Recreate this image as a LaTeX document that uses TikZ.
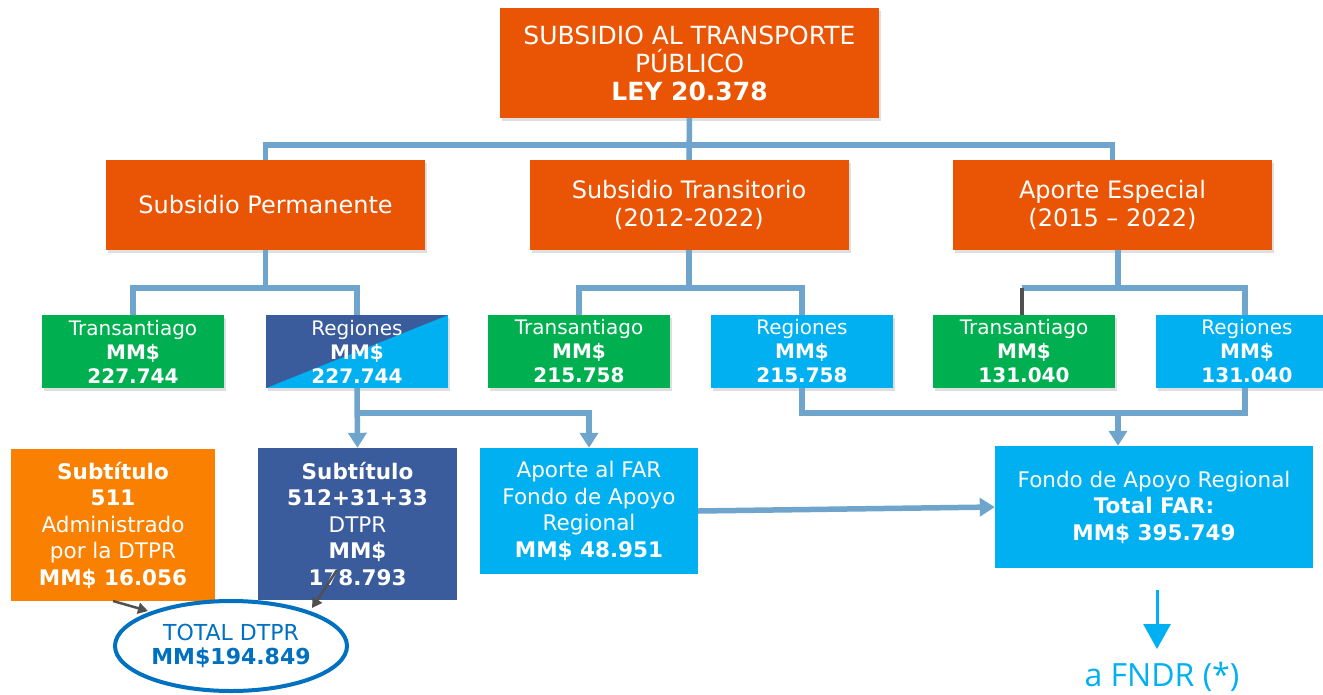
\documentclass[tikz,border=0pt]{standalone}
\usepackage{fontspec}
\setmainfont{DejaVu Sans}
\newfontfamily\opensans{Open Sans}
\usetikzlibrary{arrows.meta,shadows,shapes.geometric}
\definecolor{orred}{HTML}{E95504}
\definecolor{grn}{HTML}{00B050}
\definecolor{lightb}{HTML}{00B0F0}
\definecolor{darkb}{HTML}{3A5B9C}
\definecolor{orng}{HTML}{F98000}
\definecolor{connc}{HTML}{6FA5CC}
\definecolor{ellc}{HTML}{0070C0}
\definecolor{grayc}{HTML}{505050}
\begin{document}
\begin{tikzpicture}[x=1pt,y=-1pt,
  box/.style={inner sep=0pt, align=center, text=white},
  shad/.style={drop shadow={shadow xshift=2pt, shadow yshift=-3pt, opacity=0.25}},
  big/.style={box, shad, fill=orred, font=\fontsize{24}{28}\selectfont, minimum height=90pt, minimum width=319pt},
  lvl/.style={box, shad, font=\fontsize{20}{24}\selectfont, minimum width=182pt, minimum height=73pt},
  low/.style={box, font=\fontsize{21.5}{26.5}\selectfont},
  conn/.style={draw=connc, line width=5.5pt},
  tip/.style={-{Triangle[width=18pt,length=15pt]}},
  grayarrow/.style={draw=grayc, line width=2.5pt, -{Triangle[width=11pt,length=10pt]}},
]
\useasboundingbox (0,0) rectangle (1323,694);
\clip (0,0) rectangle (1323,694);

% top
\node[big, minimum width=379pt, minimum height=110pt, font=\fontsize{25}{28}\selectfont] (top) at (689.5,63)
  {SUBSIDIO AL TRANSPORTE\\PÚBLICO\\\textbf{LEY 20.378}};
% level 2
\node[big] (sp) at (265.5,205) {Subsidio Permanente};
\node[big] (st) at (689,205) {Subsidio Transitorio\\(2012-2022)};
\node[big] (ae) at (1112.5,205) {Aporte Especial\\(2015 – 2022)};

% connectors level 1-2
\coordinate (busA) at (689,145);
\draw[conn] (top.south) -- (st.north);
\draw[conn] (sp.north) |- (busA) -| (ae.north);

% level 3
\node[lvl, fill=grn] (t1) at (133,351.5) {Transantiago\\\textbf{MM\$}\\\textbf{227.744}};
\node[lvl, fill=lightb, path picture={\fill[darkb] (path picture bounding box.north west) -- (path picture bounding box.north east) -- (path picture bounding box.south west) -- cycle;}] (r1) at (357,351.5) {Regiones\\\textbf{MM\$}\\\textbf{227.744}};
\node[lvl, fill=grn] (t2) at (579,351.5) {Transantiago\\\textbf{MM\$}\\\textbf{215.758}};
\node[lvl, fill=lightb] (r2) at (802,351.5) {Regiones\\\textbf{MM\$}\\\textbf{215.758}};
\node[lvl, fill=grn] (t3) at (1024,351.5) {Transantiago\\\textbf{MM\$}\\\textbf{131.040}};
\node[lvl, fill=lightb, text width=164pt] (r3) at (1247,351.5) {Regiones\\\textbf{MM\$}\\\textbf{131.040}};

% connectors level 2-3
\coordinate (busB) at (265.5,288);
\coordinate (busC) at (689,288);
\coordinate (busD) at (1118,288);
\coordinate (gtop) at (1022,288);
\coordinate (gbot) at (1022,315);
\draw[conn] (sp.south) -- (busB);
\draw[conn] (t1.north) |- (busB) -| (r1.north);
\draw[conn] (st.south) -- (busC);
\draw[conn] (t2.north) |- (busC) -| (r2.north);
\draw[conn] ([xshift=5.5pt]ae.south) -- (busD);
\draw[conn] (gtop) -- (busD) -| ([xshift=-2pt]r3.north);
\draw[draw=grayc, line width=4pt] (gtop) -- (gbot);

% bottom boxes
\node[low, fill=orng, minimum width=204pt, minimum height=152pt] (s1) at (113,525)
  {\textbf{Subtítulo}\\\textbf{511}\\Administrado\\por la DTPR\\\textbf{MM\$ 16.056}};
\node[low, fill=darkb, minimum width=199pt, minimum height=152pt] (s2) at (357.5,524)
  {\textbf{Subtítulo}\\\textbf{512+31+33}\\DTPR\\\textbf{MM\$}\\\textbf{178.793}};
\node[low, fill=lightb, minimum width=218pt, minimum height=126pt] (far) at (589,511)
  {Aporte al FAR\\Fondo de Apoyo\\Regional\\\textbf{MM\$ 48.951}};
\node[low, fill=lightb, minimum width=318pt, minimum height=122pt] (fondo) at (1154,507)
  {Fondo de Apoyo Regional\\\textbf{Total FAR:}\\\textbf{MM\$ 395.749}};
\node[ellipse, draw=ellc, line width=4pt, fill=white, minimum width=232pt, minimum height=90pt,
  inner sep=0pt, align=center, text=ellc, font=\fontsize{22}{24}\selectfont] (tot) at (231,646)
  {TOTAL DTPR\\\textbf{MM\$194.849}};

% connectors level 3-4
\coordinate (busE) at (357,413);
\draw[conn, tip] (r1.south) -- (s2.north);
\draw[conn, tip] (busE) -| (far.north);
\coordinate (busF) at (1118,413);
\draw[conn] (r2.south) |- ([xshift=-2pt]r3.south |- busF) -- ([xshift=-2pt]r3.south);
\draw[conn, tip] (busF) -- (busF |- fondo.north);
\draw[conn, tip] (far.east) -- (fondo.west);

% gray arrows to total
\coordinate (g1a) at (113,601);
\coordinate (g1b) at (148,611);
\coordinate (g2a) at (337,570);
\coordinate (g2b) at (312,608);
\draw[grayarrow] (g1a) -- (g1b);
\draw[grayarrow] (g2a) -- (g2b);

% to FNDR
\node[text=lightb, inner sep=0pt, font=\opensans\fontsize{32}{36}\selectfont] (fndr) at (1162,677) {a FNDR (*)};
\coordinate (d1) at (1157,590);
\coordinate (d2) at (1157,649);
\draw[draw=lightb, line width=3pt, -{Triangle[width=27pt,length=25pt]}] (d1) -- (d2);
\end{tikzpicture}
\end{document}
